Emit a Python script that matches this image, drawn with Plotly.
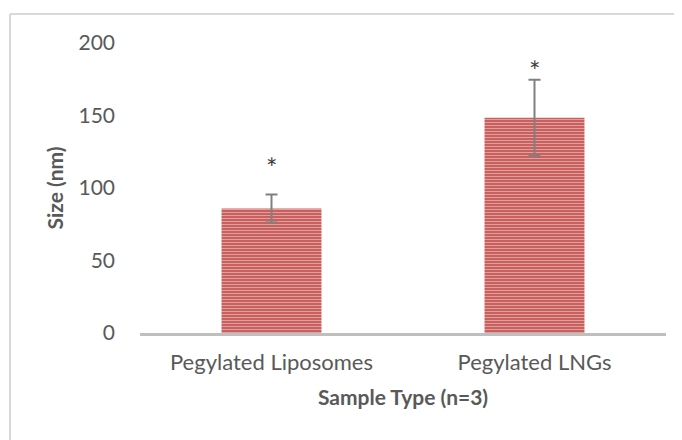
import plotly.graph_objects as go

categories = ["Pegylated Liposomes", "Pegylated LNGs"]
sizes_nm = [85.9, 148.4]
sd_nm = [9.7, 26.2]
sig_labels = ["*", "*"]
y_ticks = [0, 50, 100, 150, 200]

FONT = "Lato"
TXT = "#595959"

fig = go.Figure()
fig.add_trace(go.Bar(
    x=categories, y=sizes_nm,
    marker=dict(
        color="#c9605d",
        line=dict(width=0),
        pattern=dict(shape="-", fgcolor="#f4dfde", bgcolor="#c9605d", size=3, solidity=0.3333),
    ),
    error_y=dict(type="data", array=sd_nm, visible=True, color="#808080", thickness=2, width=6),
    hoverinfo="skip",
))

label_shift = [27, 9]
for c, v, e, t, s in zip(categories, sizes_nm, sd_nm, sig_labels, label_shift):
    fig.add_annotation(x=c, y=v + e, text=t, showarrow=False, yanchor="middle",
                       yshift=s, font=dict(family=FONT, size=27, color="#404040"))

# outer chart border (top and left visible)
fig.add_shape(type="line", xref="paper", yref="paper", x0=-0.2471, x1=1.1, y0=1.1001, y1=1.1001,
              line=dict(color="#d9d9d9", width=2))
fig.add_shape(type="line", xref="paper", yref="paper", x0=-0.2471, x1=-0.2471, y0=1.1001, y1=-0.5,
              line=dict(color="#d9d9d9", width=2))

fig.update_layout(
    width=674, height=432,
    margin=dict(l=132, r=16, t=35, b=107, autoexpand=False),
    paper_bgcolor="white", plot_bgcolor="white",
    bargap=0.62, showlegend=False,
    font=dict(family=FONT, size=20, color=TXT),
)
fig.update_xaxes(
    automargin=False,
    showline=True, linecolor="#bfbfbf", linewidth=3, showgrid=False, ticks="",
    tickfont=dict(family=FONT, size=22, color=TXT), ticklabelstandoff=8,
    title=dict(text="<b>Sample Type (n=3)</b>", font=dict(family=FONT, size=21, color=TXT), standoff=16),
)
fig.update_yaxes(
    automargin=False,
    range=[0, 200], tickvals=y_ticks, showgrid=False, zeroline=False, showline=False, ticks="",
    tickfont=dict(family=FONT, size=21, color=TXT), ticklabelstandoff=24,
    title=dict(text="<b>Size (nm)</b>", font=dict(family=FONT, size=21, color=TXT), standoff=9),
)

fig.write_html("out.html")
